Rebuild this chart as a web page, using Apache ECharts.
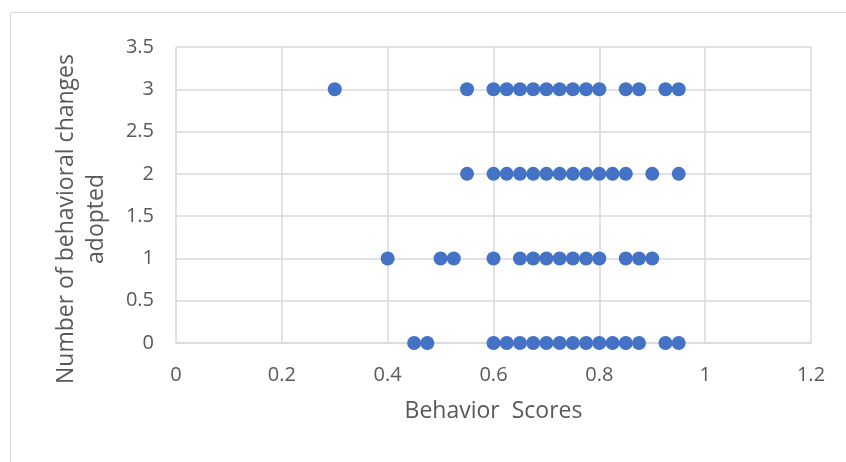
<!DOCTYPE html>
<html>
<head>
<meta charset="utf-8">
<script src="https://cdn.jsdelivr.net/npm/echarts@6/dist/echarts.min.js"></script>
<style>
  html, body { margin: 0; padding: 0; background: #ffffff; }
  #chart { width: 846px; height: 462px; }
</style>
</head>
<body>
<div id="chart"></div>
<script>
// Behavior scores grouped by the number of behavioral changes adopted
const scores0 = [0.45, 0.475, 0.6, 0.625, 0.65, 0.675, 0.7, 0.725, 0.75, 0.775, 0.8, 0.825, 0.85, 0.875, 0.925, 0.95];
const scores1 = [0.4, 0.5, 0.525, 0.6, 0.65, 0.675, 0.7, 0.725, 0.75, 0.775, 0.8, 0.85, 0.875, 0.9];
const scores2 = [0.55, 0.6, 0.625, 0.65, 0.675, 0.7, 0.725, 0.75, 0.775, 0.8, 0.825, 0.85, 0.9, 0.95];
const scores3 = [0.3, 0.55, 0.6, 0.625, 0.65, 0.675, 0.7, 0.725, 0.75, 0.775, 0.8, 0.85, 0.875, 0.925, 0.95];
const changeCounts = [0, 1, 2, 3];
const xTitle = 'Behavior  Scores';
const yTitle = 'Number of behavioral changes\nadopted';

const groups = [scores0, scores1, scores2, scores3];
const points = [];
groups.forEach((arr, i) => arr.forEach(s => points.push([s, changeCounts[i]])));

const uiFont = '"Open Sans", "Noto Sans", sans-serif';
const chart = echarts.init(document.getElementById('chart'), null, { renderer: 'canvas' });
chart.setOption({
  animation: false,
  backgroundColor: '#ffffff',
  grid: { left: 176, right: 35, top: 47, bottom: 119, containLabel: false },
  xAxis: {
    type: 'value', min: 0, max: 1.2, interval: 0.2,
    name: xTitle, nameLocation: 'middle', nameGap: 57,
    nameTextStyle: { color: '#595959', fontSize: 23, fontFamily: uiFont },
    axisLine: { show: true, lineStyle: { color: '#d9d9d9', width: 1.5 } },
    axisTick: { show: false },
    axisLabel: { color: '#595959', fontSize: 20, fontFamily: uiFont, margin: 22,
      formatter: v => String(+v.toFixed(1)) },
    splitLine: { show: true, lineStyle: { color: '#d9d9d9', width: 1.5 } }
  },
  yAxis: {
    type: 'value', min: 0, max: 3.5, interval: 0.5,
    axisLine: { show: false },
    axisTick: { show: false },
    axisLabel: { color: '#595959', fontSize: 20, fontFamily: uiFont, margin: 22,
      formatter: v => String(+v.toFixed(1)) },
    splitLine: { show: true, lineStyle: { color: '#d9d9d9', width: 1.5 } }
  },
  graphic: [
    { type: 'rect', shape: { x: 10.5, y: 12.5, width: 900, height: 600 },
      style: { fill: 'none', stroke: '#d9d9d9', lineWidth: 1 }, silent: true, z: -1 },
    { type: 'text', x: 81, y: 219, rotation: Math.PI / 2,
      style: { text: yTitle, fill: '#595959', font: '23px "Open Sans", sans-serif',
        textAlign: 'center', textVerticalAlign: 'middle', lineHeight: 30 } }
  ],
  series: [{
    type: 'scatter',
    data: points,
    symbol: 'circle',
    symbolSize: 14,
    itemStyle: { color: '#4472C4', opacity: 1 }
  }]
});
</script>
</body>
</html>
